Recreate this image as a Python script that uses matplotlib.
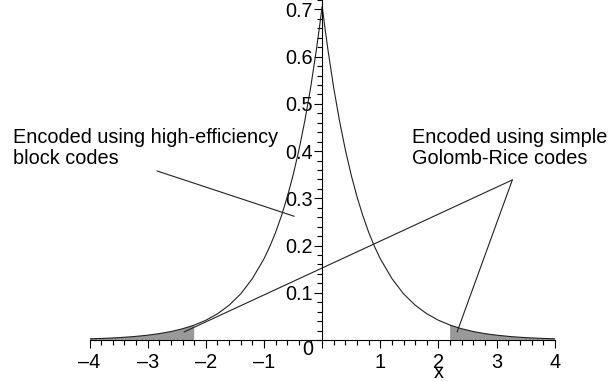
import numpy as np
import matplotlib
matplotlib.use('Agg')
import matplotlib.pyplot as plt

plt.rcParams['font.family'] = ['Liberation Sans', 'DejaVu Sans']

# density values (right half, symmetric)
x_half = [0.0, 0.05, 0.1, 0.2, 0.3, 0.4, 0.5, 0.6, 0.7, 0.8, 0.9, 1.0, 1.2, 1.4, 1.6,
          1.8, 2.0, 2.2, 2.4, 2.6, 2.8, 3.0, 3.25, 3.5, 3.75, 4.0]
y_half = [0.707, 0.659, 0.614, 0.533, 0.463, 0.402, 0.349, 0.303, 0.263, 0.228, 0.198,
          0.172, 0.130, 0.0977, 0.0736, 0.0555, 0.0418, 0.0315, 0.0238, 0.0179,
          0.0135, 0.0102, 0.0071, 0.0050, 0.0035, 0.0025]
tail_start = 2.2

x_ticks = [-4, -3, -2, -1, 0, 1, 2, 3, 4]
x_labels = ['\u20134', '\u20133', '\u20132', '\u20131', '', '1', '2', '3', '4']
y_ticks = [0.1, 0.2, 0.3, 0.4, 0.5, 0.6, 0.7]

left_text = ['Encoded using high-efficiency', 'block codes']
right_text = ['Encoded using simple', 'Golomb-Rice codes']
left_pointer = [(-2.84, 0.358), (-0.48, 0.262)]
right_apex = (3.27, 0.339)
right_targets = [(2.32, 0.017), (-2.375, 0.017)]

xh = np.array(x_half)
yh = np.array(y_half)
x = np.concatenate([-xh[::-1], xh[1:]])
y = np.concatenate([yh[::-1], yh[1:]])

fig = plt.figure(figsize=(6.09, 3.81), dpi=100)
ax = fig.add_axes([0.147, 0.1076, 0.764, 0.8924])

ax.fill_between(x, 0, y, where=np.abs(x) >= tail_start - 1e-9, color='#999999', lw=0)
ax.plot(x, y, color='#222222', lw=0.8)

ax.set_xlim(-4, 4)
ax.set_ylim(0, 0.72)

for s in ['top', 'right']:
    ax.spines[s].set_visible(False)
ax.spines['left'].set_position(('data', 0))
ax.spines['bottom'].set_position(('data', 0))
for s in ['left', 'bottom']:
    ax.spines[s].set_linewidth(0.8)

fs = 14.3
ax.set_xticks(x_ticks)
ax.set_xticklabels(x_labels, fontsize=fs)
ax.set_yticks(y_ticks)
ax.set_yticklabels([f'{v:.1f}' for v in y_ticks], fontsize=fs)
ax.set_xticks(np.arange(-4, 4.01, 0.2), minor=True)
ax.set_yticks(np.arange(0, 0.721, 0.02), minor=True)
ax.tick_params(axis='x', which='major', length=6, width=0.8, direction='out', pad=3)
ax.tick_params(axis='y', which='major', length=6, width=0.8, direction='out', pad=1)
ax.tick_params(axis='both', which='minor', length=3.5, width=0.8, direction='out')

ax.text(-0.24, -0.021, '0', fontsize=fs, ha='center', va='center')
ax.text(2.01, -0.068, 'x', fontsize=fs, ha='center', va='center')

# annotations
fig.text(13 / 609, 1 - 143 / 381, left_text[0], fontsize=fs, va='baseline')
fig.text(13 / 609, 1 - 164 / 381, left_text[1], fontsize=fs, va='baseline')
fig.text(412 / 609, 1 - 143 / 381, right_text[0], fontsize=fs, va='baseline')
fig.text(412 / 609, 1 - 164 / 381, right_text[1], fontsize=fs, va='baseline')

ax.annotate('', xy=left_pointer[1], xytext=left_pointer[0],
            arrowprops=dict(arrowstyle='-', lw=0.8, color='#222222', shrinkA=0, shrinkB=0))
for t in right_targets:
    ax.annotate('', xy=t, xytext=right_apex,
                arrowprops=dict(arrowstyle='-', lw=0.8, color='#222222', shrinkA=0, shrinkB=0))

fig.savefig('out.png', dpi=100)
